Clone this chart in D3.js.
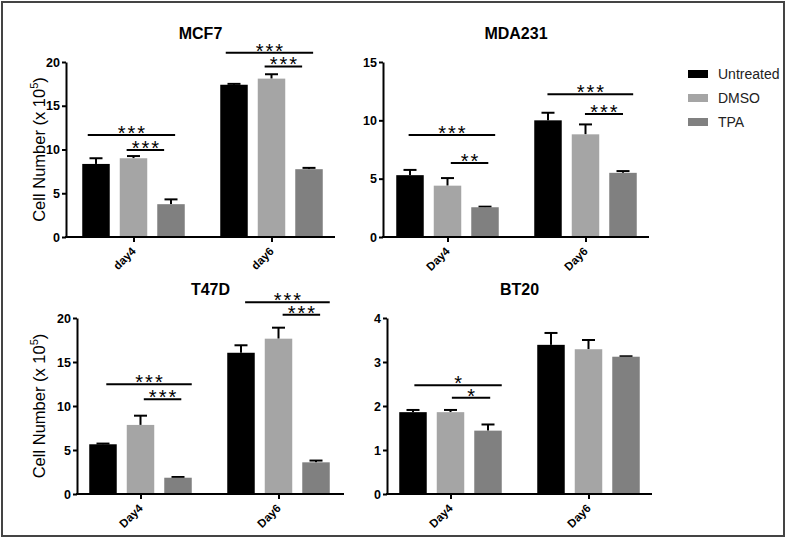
<!DOCTYPE html>
<html><head><meta charset="utf-8">
<script src="https://cdn.jsdelivr.net/npm/d3@7"></script>
<style>body{margin:0;background:#fff;} svg{display:block;font-family:"Liberation Sans",Arial,sans-serif;}</style>
</head><body><svg id="c" width="787" height="539"></svg>
<script>
// ---------- data ----------
const seriesNames = ["Untreated", "DMSO", "TPA"];
const seriesColors = ["#000000", "#a5a5a5", "#808080"];
const panelNames = ["MCF7", "MDA231", "T47D", "BT20"];
const mcf7Days = ["day4", "day6"];
const otherDays = ["Day4", "Day6"];
const yLabel = "Cell Number (x 10";
const yLabelSup = "5";

// mean values [day][series]
const mcf7Mean   = [[8.35, 9.0, 3.75], [17.4, 18.1, 7.75]];
const mcf7Err    = [[0.65, 0.25, 0.55], [0.1, 0.5, 0.15]];
const mda231Mean = [[5.3, 4.4, 2.55], [10.0, 8.8, 5.5]];
const mda231Err  = [[0.45, 0.65, 0.05], [0.65, 0.85, 0.15]];
const t47dMean   = [[5.65, 7.85, 1.85], [16.05, 17.65, 3.6]];
const t47dErr    = [[0.08, 1.05, 0.08], [0.85, 1.25, 0.2]];
const bt20Mean   = [[1.86, 1.86, 1.44], [3.39, 3.29, 3.12]];
const bt20Err    = [[0.05, 0.05, 0.14], [0.27, 0.21, 0.01]];

// y tick values
const mcf7Ticks = [0, 5, 10, 15, 20];
const mda231Ticks = [0, 5, 10, 15];
const t47dTicks = [0, 5, 10, 15, 20];
const bt20Ticks = [0, 1, 2, 3, 4];

// significance annotations: day index, from/to series, level (data units), label
const mcf7Sig = [
  {day: 0, from: 0, to: 2, f1: 0.2, f2: 0.65, level: 11.66, label: "***"},
  {day: 0, from: 1, to: 2, f1: 0.25, f2: 0.25, level: 9.94, label: "***"},
  {day: 1, from: 0, to: 2, f1: 0.2, f2: 0.65, level: 21.06, label: "***"},
  {day: 1, from: 1, to: 2, f1: 0.25, f2: 0.25, level: 19.5, label: "***"}
];
const mda231Sig = [
  {day: 0, from: 0, to: 2, f1: 0.45, f2: 0.87, level: 8.74, label: "***"},
  {day: 0, from: 1, to: 2, f1: 0.62, f2: 0.62, level: 6.34, label: "**"},
  {day: 1, from: 0, to: 2, f1: 0.48, f2: 0.87, level: 12.23, label: "***"},
  {day: 1, from: 1, to: 2, f1: 0.48, f2: 0.5, level: 10.54, label: "***"}
];
const t47dSig = [
  {day: 0, from: 0, to: 2, f1: 0.62, f2: 1.0, level: 12.48, label: "***"},
  {day: 0, from: 1, to: 2, f1: 0.62, f2: 0.62, level: 10.78, label: "***"},
  {day: 1, from: 0, to: 2, f1: 0.65, f2: 1.0, level: 21.8, label: "***"},
  {day: 1, from: 1, to: 2, f1: 0.65, f2: 0.65, level: 20.37, label: "***"}
];
const bt20Sig = [
  {day: 0, from: 0, to: 2, f1: 0.55, f2: 1.0, level: 2.47, label: "*"},
  {day: 0, from: 1, to: 2, f1: 0.55, f2: 0.58, level: 2.19, label: "*"}
];

// ---------- layout ----------
const panels = [
  {name: panelNames[0], days: mcf7Days, mean: mcf7Mean, err: mcf7Err, ticks: mcf7Ticks, sig: mcf7Sig,
   x0: 66, x1: 335, top: 62, bot: 237, c1: 133.5, ylab: true},
  {name: panelNames[1], days: otherDays, mean: mda231Mean, err: mda231Err, ticks: mda231Ticks, sig: mda231Sig,
   x0: 383, x1: 649, top: 62, bot: 237, c1: 447.5, ylab: false},
  {name: panelNames[2], days: otherDays, mean: t47dMean, err: t47dErr, ticks: t47dTicks, sig: t47dSig,
   x0: 77, x1: 344, top: 318, bot: 494, c1: 140.5, ylab: true},
  {name: panelNames[3], days: otherDays, mean: bt20Mean, err: bt20Err, ticks: bt20Ticks, sig: bt20Sig,
   x0: 387, x1: 652, top: 318, bot: 494, c1: 450.5, ylab: false}
];
const groupStep = 138;

const svg = d3.select("#c");
svg.append("rect").attr("x", 2).attr("y", 2).attr("width", 782).attr("height", 534)
  .attr("fill", "none").attr("stroke", "#444").attr("stroke-width", 2);

panels.forEach(p => {
  const g = svg.append("g");
  const x = d3.scalePoint().domain(p.days).range([p.c1, p.c1 + groupStep]);
  const xs = d3.scaleBand().domain(seriesNames).range([-51.25, 51.25]).paddingInner(0.267);
  const y = d3.scaleLinear().domain([0, d3.max(p.ticks)]).range([p.bot, p.top]);
  const color = d3.scaleOrdinal().domain(seriesNames).range(seriesColors);

  const flat = [];
  p.days.forEach((d, i) => seriesNames.forEach((s, j) => {
    flat.push({day: d, series: s, v: p.mean[i][j], e: p.err[i][j]});
  }));

  // error bars (upper half only)
  const eb = g.append("g").attr("stroke", "#000").attr("stroke-width", 2);
  flat.forEach(d => {
    const cx = x(d.day) + xs(d.series) + xs.bandwidth() / 2;
    eb.append("line").attr("x1", cx).attr("x2", cx).attr("y1", y(d.v)).attr("y2", y(d.v + d.e));
    eb.append("line").attr("x1", cx - 6.5).attr("x2", cx + 6.5).attr("y1", y(d.v + d.e)).attr("y2", y(d.v + d.e));
  });

  // bars
  g.append("g").selectAll("rect").data(flat).join("rect")
    .attr("x", d => x(d.day) + xs(d.series))
    .attr("width", xs.bandwidth())
    .attr("y", d => y(d.v))
    .attr("height", d => y(0) - y(d.v))
    .attr("fill", d => color(d.series));

  // y axis
  const ya = g.append("g").attr("transform", `translate(${p.x0},0)`)
    .call(d3.axisLeft(y).tickValues(p.ticks).tickSize(4).tickPadding(2).tickSizeOuter(0).tickFormat(d3.format("d")));
  ya.select(".domain").attr("stroke-width", 2);
  ya.selectAll(".tick line").attr("stroke-width", 2);
  ya.selectAll(".tick text").attr("font-family", "Liberation Sans, Arial, sans-serif")
    .attr("font-size", 12.5).attr("font-weight", "bold").attr("fill", "#000");

  // x axis
  const xa = g.append("g").attr("transform", `translate(0,${p.bot})`)
    .call(d3.axisBottom(x).tickSize(5).tickSizeOuter(0).tickFormat(""));
  xa.select(".domain").remove();
  xa.selectAll(".tick line").attr("stroke-width", 2);
  xa.append("line").attr("x1", p.x0 - 1).attr("x2", p.x1).attr("y1", 0).attr("y2", 0)
    .attr("stroke", "#000").attr("stroke-width", 2);
  g.selectAll("text.xl").data(p.days).join("text").attr("class", "xl")
    .attr("transform", d => `translate(${x(d) + 3},${p.bot + 15}) rotate(-45)`)
    .attr("text-anchor", "end").attr("font-size", 11.5).attr("font-weight", "bold")
    .text(d => d);

  // significance
  const sg = g.append("g");
  p.sig.forEach(s => {
    const d = p.days[s.day];
    const xa1 = x(d) + xs(seriesNames[s.from]) + s.f1 * xs.bandwidth();
    const xa2 = x(d) + xs(seriesNames[s.to]) + s.f2 * xs.bandwidth();
    const yy = y(s.level);
    sg.append("line").attr("x1", xa1).attr("x2", xa2).attr("y1", yy).attr("y2", yy)
      .attr("stroke", "#000").attr("stroke-width", 2);
    sg.append("text").attr("x", (xa1 + xa2) / 2 + 1).attr("y", yy + 5)
      .attr("text-anchor", "middle").attr("font-size", 20).attr("letter-spacing", 2)
      .text(s.label);
  });

  // title
  g.append("text").attr("x", (p.x0 + p.x1) / 2).attr("y", 39).attr("text-anchor", "middle")
    .attr("transform", `translate(0,${p.top - 62})`)
    .attr("font-size", 16).attr("font-weight", "bold").text(p.name);

  // y label
  if (p.ylab) {
    const t = g.append("text")
      .attr("transform", `translate(45,${(p.top + p.bot) / 2}) rotate(-90)`)
      .attr("text-anchor", "middle").attr("font-size", 16.5);
    t.append("tspan").text(yLabel);
    t.append("tspan").attr("font-size", 11).attr("dy", -7).text(yLabelSup);
    t.append("tspan").attr("dy", 7).text(")");
  }
});

// legend
const lg = svg.append("g");
seriesNames.forEach((s, i) => {
  lg.append("rect").attr("x", 688).attr("y", 70 + i * 24).attr("width", 20).attr("height", 8).attr("fill", seriesColors[i]);
  lg.append("text").attr("x", 718).attr("y", 78.5 + i * 24).attr("font-size", 14).attr("fill", "#222").text(s);
});
</script>
</body></html>
